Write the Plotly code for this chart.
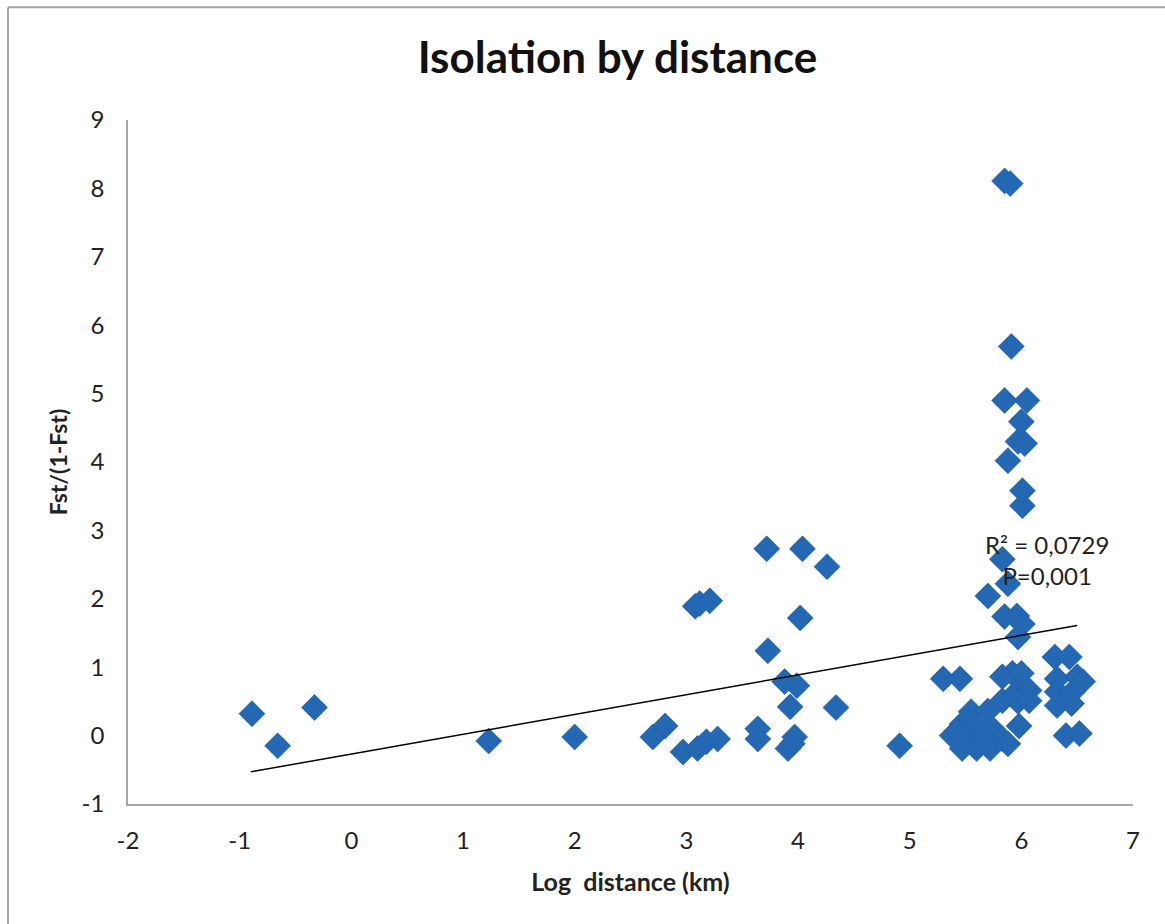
import plotly.graph_objects as go

# Data
log_distance = [
    -0.89, -0.66, -0.33, 1.23, 2.00, 2.70, 2.81, 2.97, 3.10, 3.18, 3.28,
    3.08, 3.12, 3.21, 3.64, 3.64, 3.72, 3.73, 3.88, 3.99, 3.93, 3.91, 3.97,
    3.95, 4.04, 4.02, 4.26, 4.34, 4.91, 5.30, 5.45, 6.30, 6.43, 5.92, 5.83,
    6.00, 6.32, 6.50, 6.55, 5.96, 6.07, 6.32, 6.46, 5.83, 5.97, 6.07, 6.32,
    6.45, 5.55, 5.70, 5.98, 5.47, 5.60, 5.74, 5.38, 5.53, 5.65, 5.83, 5.47,
    5.60, 5.72, 5.88, 6.40, 6.52, 5.83, 5.88, 5.70, 5.85, 5.96, 6.01, 5.97,
    6.01, 6.01, 5.88, 5.97, 6.03, 6.00, 5.85, 6.05, 5.91, 5.85, 5.90, 5.42,
]
fst_ratio = [
    0.32, -0.15, 0.41, -0.08, -0.02, -0.02, 0.14, -0.24, -0.19, -0.09, -0.05,
    1.89, 1.93, 1.97, 0.10, -0.05, 2.73, 1.24, 0.79, 0.73, 0.42, -0.19, -0.02,
    -0.12, 2.73, 1.72, 2.47, 0.41, -0.15, 0.83, 0.83, 1.15, 1.15, 0.91, 0.86,
    0.91, 0.83, 0.86, 0.79, 0.64, 0.66, 0.64, 0.64, 0.51, 0.50, 0.51, 0.44,
    0.47, 0.35, 0.36, 0.14, 0.17, 0.14, 0.10, 0.00, -0.05, -0.02, -0.05, -0.19,
    -0.19, -0.19, -0.12, 0.00, 0.03, 2.58, 2.22, 2.04, 1.74, 1.75, 1.63, 1.44,
    3.36, 3.58, 4.02, 4.30, 4.27, 4.59, 4.90, 4.90, 5.69, 8.11, 8.07, 0.06,
]
trend_x = [-0.9, 6.5]
trend_y = [-0.53, 1.61]

x_ticks = [-2, -1, 0, 1, 2, 3, 4, 5, 6, 7]
x_tick_labels = ["-2", "-1", "0", "1", "2", "3", "4", "5", "6", "7"]
y_ticks = [-1, 0, 1, 2, 3, 4, 5, 6, 7, 8, 9]
y_tick_labels = ["-1", "0", "1", "2", "3", "4", "5", "6", "7", "8", "9"]

title_text = "Isolation by distance"
x_title = "Log  distance (km)"
y_title = "Fst/(1-Fst)"
annot_text = "R² = 0,0729<br>P=0,001"

FONT = "Lato, Open Sans, sans-serif"
TXT = "#222222"

fig = go.Figure()
fig.add_trace(go.Scatter(
    x=log_distance, y=fst_ratio, mode="markers",
    marker=dict(symbol="diamond", size=20, color="#2468B4",
                line=dict(color="#1F5CA0", width=0.6)),
    showlegend=False, hoverinfo="x+y",
))
fig.add_trace(go.Scatter(
    x=trend_x, y=trend_y, mode="lines",
    line=dict(color="#000000", width=1.5),
    showlegend=False, hoverinfo="skip",
))

fig.update_layout(
    width=1165, height=924,
    margin=dict(l=128, r=32, t=120, b=120),
    paper_bgcolor="white", plot_bgcolor="white",
    font=dict(family=FONT, color=TXT),
    title=dict(text="<b>" + title_text + "</b>", x=0.53, xanchor="center",
               y=0.938, yanchor="middle",
               font=dict(size=44, family=FONT, color="#111111")),
    xaxis=dict(range=[-2, 7], tickvals=x_ticks, ticktext=x_tick_labels,
               showgrid=False, zeroline=False,
               showline=True, linecolor="#a6a6a6", linewidth=1.5,
               ticks="", ticklen=0, ticklabelstandoff=14,
               tickfont=dict(size=24, family=FONT, color=TXT),
               title=dict(text="<b>" + x_title + "</b>", standoff=21,
                          font=dict(size=25, family=FONT, color=TXT))),
    yaxis=dict(range=[-1, 9], tickvals=y_ticks, ticktext=y_tick_labels,
               showgrid=False, zeroline=False,
               showline=True, linecolor="#a6a6a6", linewidth=1.5,
               ticks="", ticklen=0, ticklabelstandoff=17,
               tickfont=dict(size=24, family=FONT, color=TXT),
               title=dict(text="<b>" + y_title + "</b>", standoff=8,
                          font=dict(size=23, family=FONT, color=TXT))),
    annotations=[dict(
        x=6.23, y=2.57, xref="x", yref="y", text=annot_text, showarrow=False,
        align="center", font=dict(size=24, family=FONT, color=TXT),
    )],
    shapes=[
        dict(type="line", xref="paper", yref="paper", x0=-0.1194, x1=-0.1194,
             y0=-0.2, y1=1.165, line=dict(color="#a6a6a6", width=2)),
        dict(type="line", xref="paper", yref="paper", x0=-0.1194, x1=1.05,
             y0=1.165, y1=1.165, line=dict(color="#a6a6a6", width=2)),
    ],
)

fig.write_html("out.html")
